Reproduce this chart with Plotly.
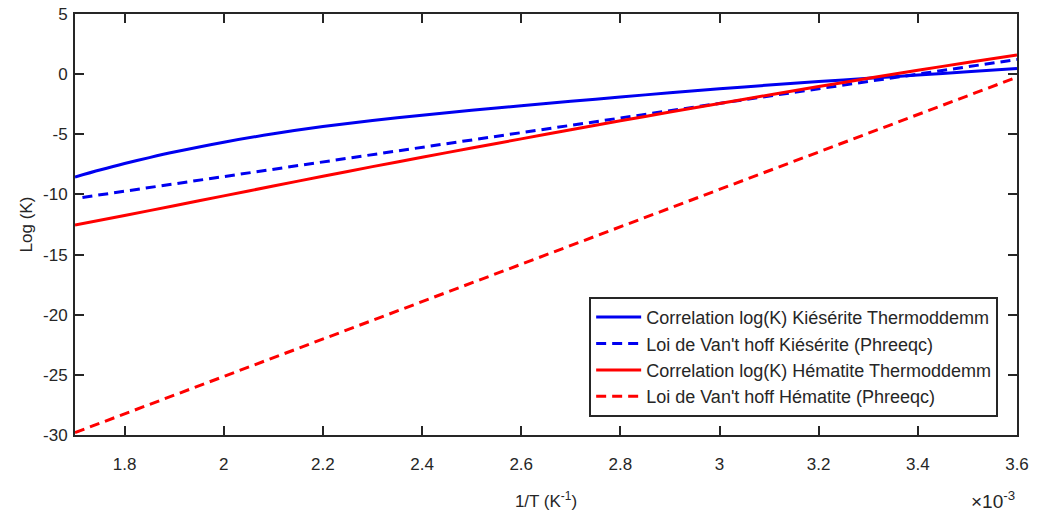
import plotly.graph_objects as go

# x values in units of 1e-3 K^-1
x_kies_corr = [1.70, 1.75, 1.80, 1.85, 1.90, 2.00, 2.10, 2.20, 2.30, 2.40, 2.50, 2.60,
               2.70, 2.80, 2.90, 3.00, 3.10, 3.20, 3.30, 3.40, 3.50, 3.60]
y_kies_corr = [-8.55, -7.97, -7.43, -6.94, -6.48, -5.66, -4.96, -4.36, -3.85, -3.41, -3.01, -2.63,
               -2.26, -1.90, -1.55, -1.22, -0.91, -0.62, -0.34, -0.08, 0.20, 0.47]

x_kies_vh = [1.715, 3.60]
y_kies_vh = [-10.25, 1.22]

x_hem_corr = [1.70, 1.80, 1.90, 2.00, 2.10, 2.20, 2.30, 2.40, 2.50, 2.60, 2.70, 2.80,
              2.90, 3.00, 3.10, 3.20, 3.30, 3.40, 3.50, 3.60]
y_hem_corr = [-12.55, -11.75, -10.94, -10.12, -9.30, -8.49, -7.69, -6.91, -6.14, -5.38, -4.63, -3.88,
              -3.15, -2.44, -1.73, -1.03, -0.35, 0.32, 0.97, 1.60]

x_hem_vh = [1.70, 3.60]
y_hem_vh = [-29.80, -0.25]

names = ["Correlation log(K) Kiésérite Thermoddemm",
         "Loi de Van't hoff Kiésérite (Phreeqc)",
         "Correlation log(K) Hématite Thermoddemm",
         "Loi de Van't hoff Hématite (Phreeqc)"]

x_ticks = [1.8, 2.0, 2.2, 2.4, 2.6, 2.8, 3.0, 3.2, 3.4, 3.6]
x_tick_text = ["1.8", "2", "2.2", "2.4", "2.6", "2.8", "3", "3.2", "3.4", "3.6"]
y_ticks = [5, 0, -5, -10, -15, -20, -25, -30]
y_tick_text = ["5", "0", "-5", "-10", "-15", "-20", "-25", "-30"]

BLUE = "#0000F0"
RED = "#FF0000"
AX = "#262626"
FONT = "Liberation Sans"

fig = go.Figure()
fig.add_trace(go.Scatter(x=x_kies_corr, y=y_kies_corr, mode="lines", name=names[0],
                         line=dict(color=BLUE, width=3, shape="spline", smoothing=0.8)))
fig.add_trace(go.Scatter(x=x_kies_vh, y=y_kies_vh, mode="lines", name=names[1],
                         line=dict(color=BLUE, width=3, dash="10px,6px")))
fig.add_trace(go.Scatter(x=x_hem_corr, y=y_hem_corr, mode="lines", name=names[2],
                         line=dict(color=RED, width=3, shape="spline", smoothing=0.8)))
fig.add_trace(go.Scatter(x=x_hem_vh, y=y_hem_vh, mode="lines", name=names[3],
                         line=dict(color=RED, width=3, dash="10px,6px")))

axis_common = dict(showgrid=False, zeroline=False, showline=True, linecolor=AX, linewidth=2,
                   mirror="ticks", ticks="inside", ticklen=9, tickwidth=2, tickcolor=AX,
                   automargin=False,
                   tickfont=dict(family=FONT, size=17, color=AX))

fig.update_xaxes(range=[1.7, 3.6], tickvals=x_ticks, ticktext=x_tick_text,
                 title=dict(text="1/T (K<sup>-1</sup>)", font=dict(family=FONT, size=17, color=AX),
                            standoff=22),
                 ticklabelstandoff=13, **axis_common)
fig.update_yaxes(range=[-30, 5], tickvals=y_ticks, ticktext=y_tick_text,
                 title=dict(text="Log (K)", font=dict(family=FONT, size=17, color=AX), standoff=6),
                 ticklabelstandoff=2, **axis_common)

fig.add_annotation(x=1.0, xref="paper", y=-0.155, yref="paper", xanchor="right", yanchor="middle",
                   text="×10<sup>-3</sup>", showarrow=False,
                   font=dict(family=FONT, size=19, color=AX))

fig.update_layout(
    width=1047, height=515,
    margin=dict(l=75, r=30, t=14, b=80),
    plot_bgcolor="white", paper_bgcolor="white",
    font=dict(family=FONT, color=AX),
    legend=dict(x=0.98, xanchor="right", y=0.043, yanchor="bottom",
                bgcolor="white", bordercolor=AX, borderwidth=2,
                font=dict(family=FONT, size=18, color=AX), itemwidth=45,
                tracegroupgap=0),
    showlegend=True,
)

fig.write_html("out.html")
